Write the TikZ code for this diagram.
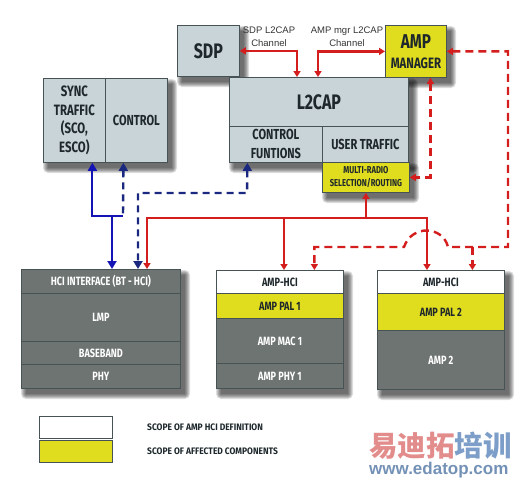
\documentclass[tikz,border=0pt]{standalone}
\usepackage{fontspec}
\setmainfont{Fira Sans}
\newfontfamily\bx{Fira Sans}[FakeStretch=0.76]
\newfontfamily\bxl{Fira Sans}[FakeStretch=0.9]
\newfontfamily\lblf{Liberation Sans}
\newfontfamily\cjk{Noto Sans CJK SC}
\usetikzlibrary{arrows.meta}
\definecolor{boxfill}{RGB}{200,212,216}
\definecolor{bordc}{RGB}{70,82,84}
\definecolor{darkc}{RGB}{110,116,114}
\definecolor{yelc}{RGB}{224,220,30}
\definecolor{txtc}{RGB}{30,40,44}
\definecolor{redc}{RGB}{212,30,30}
\definecolor{bluec}{RGB}{20,20,180}
\definecolor{navyc}{RGB}{26,40,128}
\definecolor{wmred}{RGB}{226,140,140}
\definecolor{wmblue}{RGB}{125,158,200}
\definecolor{wmtxt}{RGB}{115,145,182}
\tikzset{
  cell/.style={draw=bordc, line width=0.8pt, inner sep=0pt, anchor=north west, align=center, text=txtc},
  lt/.style={cell, fill=boxfill},
  dk/.style={cell, fill=darkc, text=white},
  yl/.style={cell, fill=yelc},
  wh/.style={cell, fill=white},
  rl/.style={draw=redc, line width=2.4pt, >={Triangle[length=6pt,width=7pt]}},
  rd/.style={draw=redc, line width=2.4pt, dash pattern=on 8pt off 5pt, >={Triangle[length=6pt,width=7pt]}},
  bl/.style={draw=bluec, line width=2pt, >={Triangle[length=8pt,width=9pt]}},
  bd/.style={draw=navyc, line width=2.4pt, dash pattern=on 7pt off 5pt, >={Triangle[length=8pt,width=9pt]}},
  chl/.style={font=\lblf\fontsize{9.5}{13}\selectfont, text=black!80, align=center, inner sep=0pt},
  shl/.style={fill=black, opacity=0.13}
}
\newcommand{\fs}[2]{\bx\bfseries\fontsize{#1}{#2}\selectfont}
% soft shadow: x, y, w, h
\newcommand{\shbox}[4]{%
  \foreach \e in {5,4,3,2,1,0}{%
    \fill[shl, rounded corners=\e pt] ({#1+5-\e},{#2+6-\e}) rectangle ({#1+#3+5+\e},{#2+#4+6+\e});
  }}
\begin{document}
\begin{tikzpicture}[x=1pt,y=-1pt]
\useasboundingbox (0,0) rectangle (532,480);
% shadows
\shbox{177}{25}{62}{51}
\shbox{385}{25}{61}{52}
\shbox{43}{78}{124}{84}
\shbox{229}{77}{179}{85}
\shbox{322}{162}{87}{30}
\shbox{21}{269}{159}{119}
\shbox{216}{270}{127}{118}
\shbox{377}{270}{127}{119}
% top boxes
\node[lt, minimum width=62pt, minimum height=51pt, font=\fs{21}{24}] (sdp) at (177,25) {SDP};
\node[yl, minimum width=61pt, minimum height=52pt, font=\fs{15}{20}] (amgr) at (385,25) {{\fs{20}{20}AMP}\\{\fs{15}{20}MANAGER}};
\node[lt, minimum width=62pt, minimum height=84pt, font=\fs{15}{18.5}] (sync) at (43,78) {SYNC\\TRAFFIC\\(SCO,\\ESCO)};
\node[lt, minimum width=62pt, minimum height=84pt, font=\fs{14.5}{18.5}] (ctrl) at (105,78) {CONTROL};
\node[lt, minimum width=179pt, minimum height=49pt, font=\fs{21}{24}] (l2cap) at (229,77) {L2CAP};
\node[lt, minimum width=93pt, minimum height=36pt, font=\fs{14.5}{19}] (cf) at (229,126) {CONTROL\\FUNTIONS};
\node[lt, minimum width=86pt, minimum height=36pt, font=\fs{14.5}{19}] (ut) at (322,126) {USER TRAFFIC};
\node[yl, minimum width=87pt, minimum height=30pt, font=\fs{10}{13}] (mr) at (322,162) {MULTI-RADIO\\SELECTION/ROUTING};
% HCI stack
\node[dk, minimum width=159pt, minimum height=24pt, font=\fs{12}{14}] (hciif) at (21,269) {HCI INTERFACE (BT - HCI)};
\node[dk, minimum width=159pt, minimum height=48pt, font=\fs{12}{14}] (lmp) at (21,293) {LMP};
\node[dk, minimum width=159pt, minimum height=23pt, font=\fs{12}{14}] (bb) at (21,341) {BASEBAND};
\node[dk, minimum width=159pt, minimum height=24pt, font=\fs{12}{14}] (phy) at (21,364) {PHY};
% AMP 1
\node[wh, minimum width=127pt, minimum height=23pt, font=\fs{12}{14}] (hci1) at (216,270) {AMP-HCI};
\node[yl, minimum width=127pt, minimum height=25pt, font=\fs{12}{14}] (pal1) at (216,293) {AMP PAL 1};
\node[dk, minimum width=127pt, minimum height=45pt, font=\fs{12}{14}] (mac1) at (216,318) {AMP MAC 1};
\node[dk, minimum width=127pt, minimum height=25pt, font=\fs{12}{14}] (phy1) at (216,363) {AMP PHY 1};
% AMP 2
\node[wh, minimum width=127pt, minimum height=23pt, font=\fs{12}{14}] (hci2) at (377,270) {AMP-HCI};
\node[yl, minimum width=127pt, minimum height=37pt, font=\fs{12}{14}] (pal2) at (377,293) {AMP PAL 2};
\node[dk, minimum width=127pt, minimum height=59pt, font=\fs{12}{14}] (amp2) at (377,330) {AMP 2};
% channel labels
\node[chl] (sdplbl) at (269,36.5) {SDP L2CAP\\Channel};
\node[chl] (amplbl) at (347,36.5) {AMP mgr L2CAP\\Channel};
% red solid
\draw[rl,<->] (sdp.east) -| ([xshift=68pt]l2cap.north west);
\draw[rl,<->] ([xshift=89pt]l2cap.north west) |- (amgr.west);
\draw[rl,<-] (mr.south) -- ++(0,25) coordinate (rj);
\draw[rl,->] (rj) -| ([xshift=126pt]hciif.north west);
\draw[rl,->] (rj) -| ([xshift=68pt]hci1.north west);
\draw[rl,->] (rj) -| ([xshift=50pt]hci2.north west);
% red dashed
\coordinate (rdc) at (508,247);
\draw[rd,<->] (amgr.east) -| (rdc) -- (448,247) .. controls (443,226) and (412,224) .. (404,247) -| ([xshift=34.5pt]hci1.north);
\draw[rd,->] ([xshift=31.5pt]hci2.north |- rdc) -- ([xshift=31.5pt]hci2.north);
\draw[rd,<->] ([xshift=14.5pt]amgr.south) |- (mr.east);
% blue
\coordinate (bj) at (123,216);
\draw[bl,<-] ([xshift=18pt]sync.south) |- (bj);
\draw[bd,<-] ([xshift=-13pt]ctrl.south) -- (bj);
\draw[bl,->] ([xshift=91pt]hciif.north west |- bj) -- ([xshift=91pt]hciif.north west);
\coordinate (bdc) at (247,193);
\draw[bd,<->] ([xshift=-28.5pt]cf.south) -- (bdc) -| ([xshift=117pt]hciif.north west);
% legend
\node[wh, minimum width=73pt, minimum height=22pt] (legw) at (39,416) {};
\node[yl, minimum width=73pt, minimum height=22pt] (legy) at (39,440) {};
\node[anchor=west, inner sep=0pt, text=txtc, font=\bxl\bfseries\fontsize{9.4}{11}\selectfont] (legwt) at (147,427) {SCOPE OF AMP HCI DEFINITION};
\node[anchor=west, inner sep=0pt, text=txtc, font=\bxl\bfseries\fontsize{9.4}{11}\selectfont] (legyt) at (147,451) {SCOPE OF AFFECTED COMPONENTS};
% watermark
\node[anchor=west, inner sep=0pt, font=\cjk\bfseries\fontsize{28.5}{30}\selectfont] (wm) at (369,446) {\textcolor{wmred}{易迪拓}\textcolor{wmblue}{培训}};
\node[anchor=west, inner sep=0pt, text=wmtxt, font=\lblf\bfseries\fontsize{17}{19}\selectfont] (wmu) at (369,470) {www.edatop.com};
\end{tikzpicture}
\end{document}
